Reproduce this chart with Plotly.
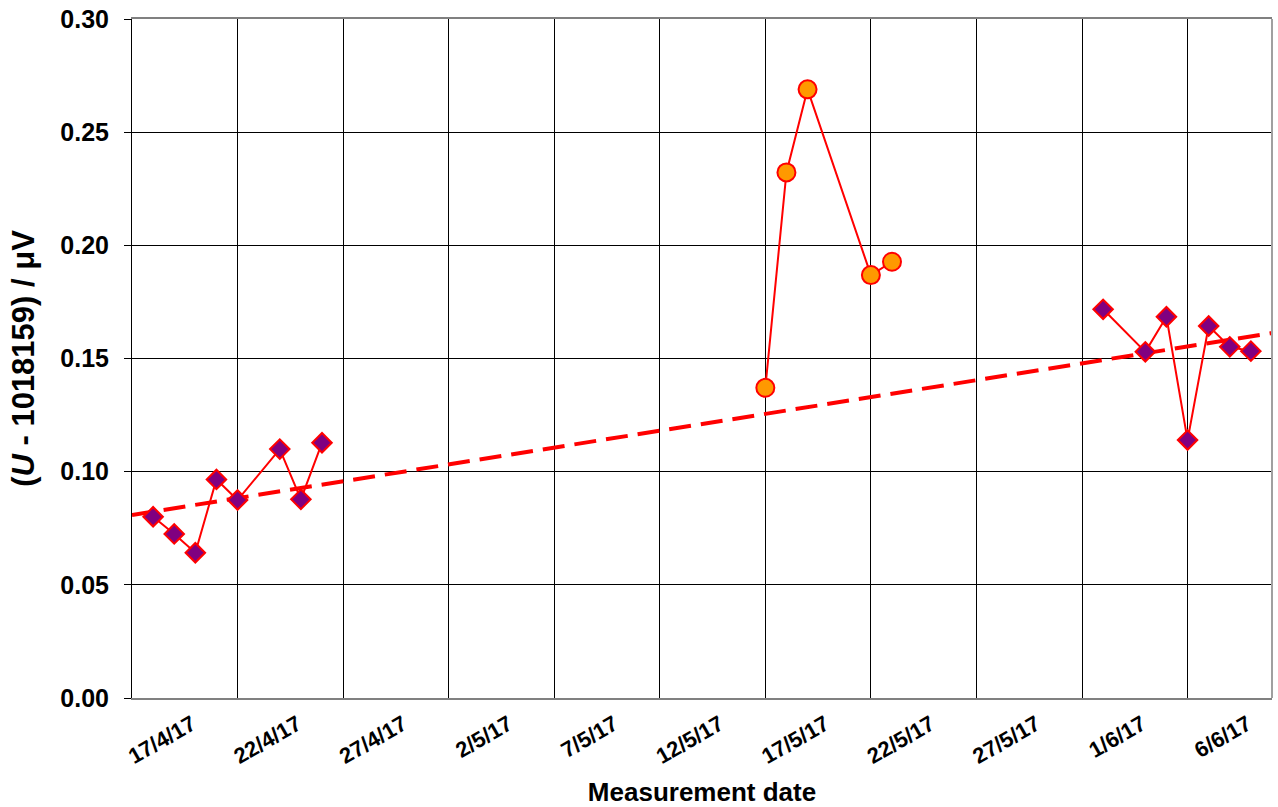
import plotly.graph_objects as go

# ---- data ----
apr_dates = ["2017-04-18", "2017-04-19", "2017-04-20", "2017-04-21", "2017-04-22",
             "2017-04-24", "2017-04-25", "2017-04-26"]
apr_values = [0.0801, 0.0725, 0.0642, 0.0966, 0.0875, 0.1100, 0.0878, 0.1128]

may_dates = ["2017-05-17", "2017-05-18", "2017-05-19", "2017-05-22", "2017-05-23"]
may_values = [0.1371, 0.2323, 0.2690, 0.1869, 0.1928]

jun_dates = ["2017-06-02", "2017-06-04", "2017-06-05", "2017-06-06", "2017-06-07",
             "2017-06-08", "2017-06-09"]
jun_values = [0.1718, 0.1530, 0.1685, 0.1140, 0.1644, 0.1552, 0.1533]

trend_dates = ["2017-04-17", "2017-06-10"]
trend_values = [0.0809, 0.1613]

tick_dates = ["2017-04-17", "2017-04-22", "2017-04-27", "2017-05-02", "2017-05-07",
              "2017-05-12", "2017-05-17", "2017-05-22", "2017-05-27", "2017-06-01",
              "2017-06-06"]
tick_labels = ["17/4/17", "22/4/17", "27/4/17", "2/5/17", "7/5/17", "12/5/17",
               "17/5/17", "22/5/17", "27/5/17", "1/6/17", "6/6/17"]

y_ticks = [0.0, 0.05, 0.10, 0.15, 0.20, 0.25, 0.30]

FONT = "Liberation Sans, Arial, sans-serif"

fig = go.Figure()

fig.add_trace(go.Scatter(
    x=trend_dates, y=trend_values, mode="lines",
    line=dict(color="#FF0000", width=4, dash="22px,10px"),
    showlegend=False, hoverinfo="skip"))

for xs, ys in [(apr_dates, apr_values), (jun_dates, jun_values)]:
    fig.add_trace(go.Scatter(
        x=xs, y=ys, mode="lines+markers",
        line=dict(color="#FF0000", width=2),
        marker=dict(symbol="diamond", size=15, color="#800080",
                    line=dict(color="#FF0000", width=2)),
        showlegend=False))

fig.add_trace(go.Scatter(
    x=may_dates, y=may_values, mode="lines+markers",
    line=dict(color="#FF0000", width=2),
    marker=dict(symbol="circle", size=18, color="#FF9900",
                line=dict(color="#FF0000", width=2)),
    showlegend=False))

fig.update_layout(
    width=1278, height=807,
    margin=dict(l=132, r=6, t=19, b=109, autoexpand=False),
    paper_bgcolor="white", plot_bgcolor="white",
    font=dict(family=FONT, color="black"),
    showlegend=False,
    xaxis=dict(
        type="date", range=["2017-04-17", "2017-06-10"], automargin=False,
        tickmode="array", tickvals=tick_dates, ticktext=tick_labels,
        tickangle=-30, ticklabelshift=60, ticklabelstandoff=3,
        tickfont=dict(family=FONT, size=22, weight="bold"),
        showgrid=True, gridcolor="black", gridwidth=1,
        showline=True, linecolor="#808080", linewidth=2, mirror=True,
        ticks="", zeroline=False,
        title=dict(text="Measurement date", standoff=21,
                   font=dict(family=FONT, size=26, weight="bold")),
    ),
    yaxis=dict(
        range=[0, 0.3001], tickmode="array", tickvals=y_ticks,
        tickformat=".2f", automargin=False, ticklabeloverflow="allow",
        tickfont=dict(family=FONT, size=25, weight="bold"),
        showgrid=True, gridcolor="black", gridwidth=1,
        showline=True, linecolor="black", linewidth=1,
        ticks="outside", ticklen=7, tickcolor="black", ticklabelstandoff=10,
        zeroline=False,
        title=dict(text="(<i>U</i> - 1018159) / μV", standoff=16,
                   font=dict(family=FONT, size=31, weight="bold")),
    ),
    shapes=[dict(type="line", xref="paper", yref="paper", x0=1, x1=1, y0=0, y1=1,
                 line=dict(color="#A0A0A0", width=2))],
)

# remove the default page margin so the figure fills the window exactly
fig.write_html("out.html",
               config={"displayModeBar": False},
               post_script="document.body.style.margin='0';"
                           "document.body.style.overflow='hidden';")
